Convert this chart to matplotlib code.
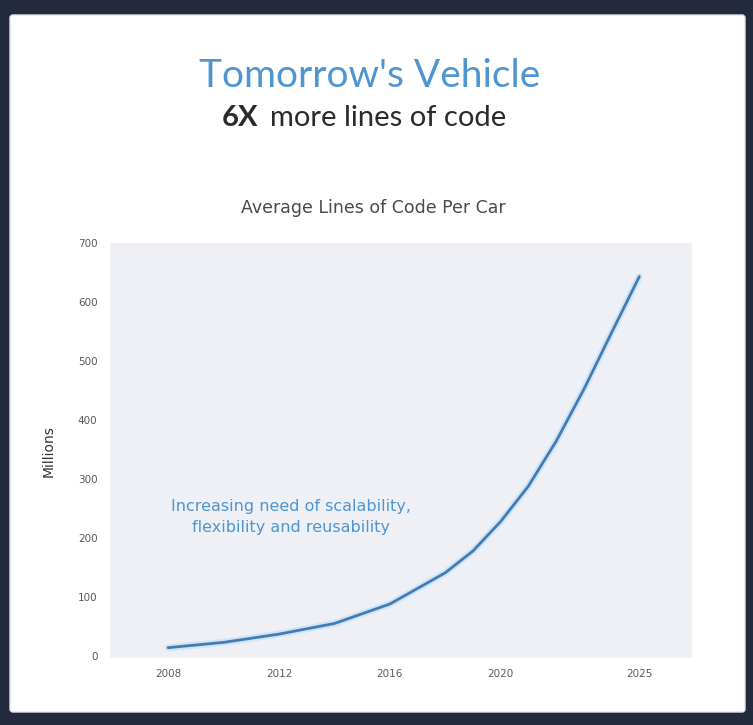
import matplotlib.pyplot as plt
from matplotlib.patches import FancyBboxPatch

# Average lines of code per car, in millions
years = [2008, 2010, 2012, 2014, 2016, 2018, 2019, 2020, 2021, 2022, 2023, 2024, 2025]
lines_of_code = [14, 23, 37, 55, 88, 141, 178, 228, 288, 364, 452, 548, 643]

tick_years = [2008, 2012, 2016, 2020, 2025]
tick_labels = ['2008', '2012', '2016', '2020', '2025']
y_ticks = [0, 100, 200, 300, 400, 500, 600, 700]

title = "Tomorrow's Vehicle"
chart_title = 'Average Lines of Code Per Car'
note = 'Increasing need of scalability,\nflexibility and reusability'

BLUE = '#4f95cf'
LINE = '#437cb3'

fig = plt.figure(figsize=(7.53, 7.25), dpi=100)
fig.patch.set_facecolor('#232a3e')

# white card behind the chart
card = FancyBboxPatch((10 / 753, 13 / 725), 735 / 753, 697 / 725,
                      boxstyle='round,pad=0,rounding_size=0.004',
                      transform=fig.transFigure, facecolor='white',
                      edgecolor='#e4e6ea', linewidth=1.0, zorder=-1)
fig.patches.append(card)

fig.text(0.491, 0.895, title, ha='center', va='center', color=BLUE,
         fontsize=28, family='Lato')
fig.text(0.295, 0.837, '6X', ha='left', va='center', color='#2b2b2b',
         fontsize=21, family='Lato', fontweight='bold')
fig.text(0.359, 0.837, 'more lines of code', ha='left', va='center',
         color='#2b2b2b', fontsize=21, family='Lato')
fig.text(0.496, 0.713, chart_title, ha='center', va='center',
         color='#4a4a4a', fontsize=12.5, family='DejaVu Sans')

ax = fig.add_axes([0.146, 0.092, 0.773, 0.573])
ax.set_zorder(2)
ax.set_facecolor('#eff0f5')

# soft halo under the main curve
ax.plot(years, lines_of_code, color='#cfe5f7', linewidth=5.0,
        solid_capstyle='round', zorder=2)
ax.plot(years, lines_of_code, color=LINE, linewidth=2.0,
        solid_capstyle='round', zorder=3)

ax.text(2012.45, 236, note, ha='center', va='center', color=BLUE,
        fontsize=11.5, family='DejaVu Sans', linespacing=1.5)

ax.set_xlim(2005.9, 2026.9)
ax.set_ylim(-4, 700)
ax.set_xticks(tick_years)
ax.set_xticklabels(tick_labels)
ax.set_yticks(y_ticks)
ax.tick_params(length=0, labelsize=7.5, labelcolor='#5a5a5a')
ax.tick_params(axis='x', pad=8)
ax.tick_params(axis='y', pad=9)
for side in ax.spines.values():
    side.set_visible(False)

ax.set_ylabel('Millions', fontsize=10, color='#333333', family='DejaVu Sans',
              labelpad=16)

fig.savefig('out.png', dpi=100, facecolor=fig.get_facecolor())
